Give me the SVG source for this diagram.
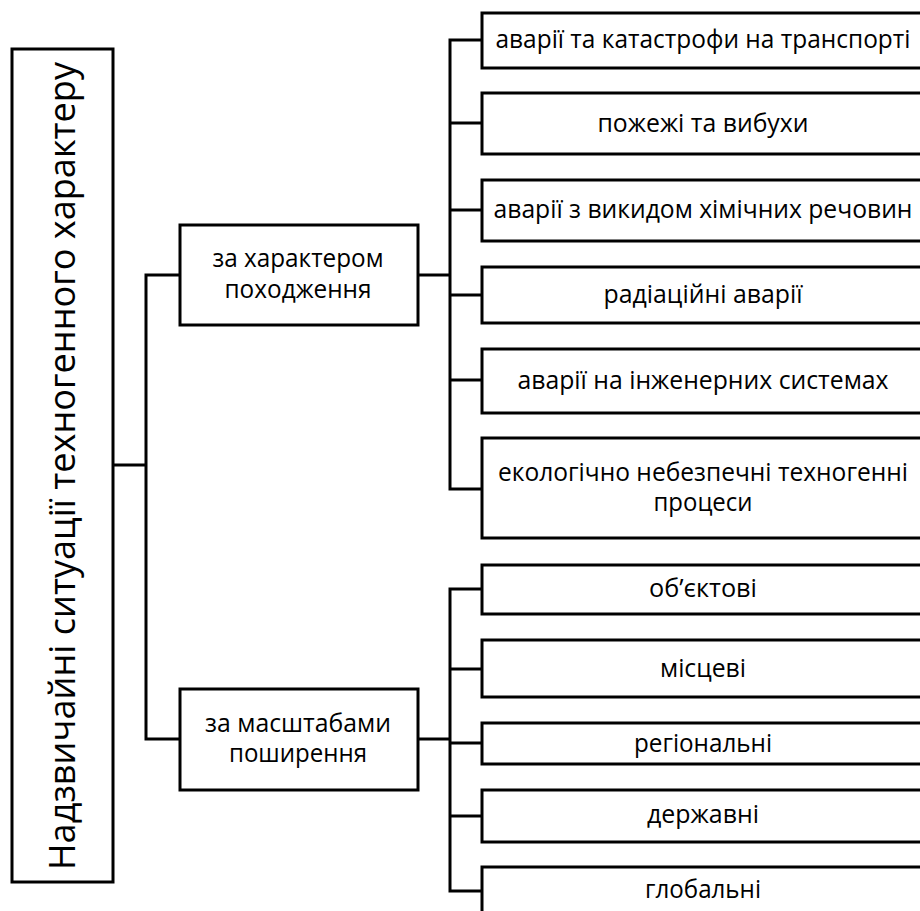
<svg xmlns="http://www.w3.org/2000/svg" width="920" height="911" viewBox="0 0 920 911">
<style>
.box{fill:#ffffff;stroke:#000000;stroke-width:3}
.con{fill:none;stroke:#000000;stroke-width:3;stroke-linejoin:miter}
.t{font-family:"Open Sans","Noto Sans","DejaVu Sans",sans-serif;font-size:25px;fill:#000000;text-anchor:middle}
.title{font-family:"Open Sans","Noto Sans","DejaVu Sans",sans-serif;font-size:37px;fill:#000000;text-anchor:middle}
</style>
<rect x="0" y="0" width="920" height="911" fill="#ffffff"/>
<g id="connectors">
<path class="con" d="M113 465 H146"/>
<path class="con" d="M180 275 H146 V739 H180"/>
<path class="con" d="M418 275 H450"/>
<path class="con" d="M418 739 H450"/>
<path class="con" d="M482 40 H450 V489 H482"/>
<path class="con" d="M450 123 H482 M450 210 H482 M450 295 H482 M450 380 H482"/>
<path class="con" d="M482 589 H450 V891 H482"/>
<path class="con" d="M450 669 H482 M450 743 H482 M450 816 H482"/>
</g>
<g id="root">
<rect class="box" x="12" y="49" width="101" height="833"/>
<text class="title" transform="translate(75 466) rotate(-90)" x="0" y="0" textLength="808" lengthAdjust="spacingAndGlyphs">Надзвичайні ситуації техногенного характеру</text>
</g>
<g id="origin">
<rect class="box" x="180" y="225" width="238" height="100"/>
<text class="t"><tspan x="298" y="267" textLength="171" lengthAdjust="spacingAndGlyphs">за характером</tspan><tspan x="298" y="298" textLength="147" lengthAdjust="spacingAndGlyphs">походження</tspan></text>
</g>
<g id="scale">
<rect class="box" x="180" y="689" width="238" height="101"/>
<text class="t"><tspan x="298" y="732" textLength="186" lengthAdjust="spacingAndGlyphs">за масштабами</tspan><tspan x="298" y="762" textLength="138" lengthAdjust="spacingAndGlyphs">поширення</tspan></text>
</g>
<g id="transport">
<rect class="box" x="482" y="13" width="442" height="55"/>
<text class="t" x="703" y="48" textLength="415" lengthAdjust="spacingAndGlyphs">аварії та катастрофи на транспорті</text>
</g>
<g id="fires">
<rect class="box" x="482" y="93" width="442" height="61"/>
<text class="t" x="703" y="132" textLength="211" lengthAdjust="spacingAndGlyphs">пожежі та вибухи</text>
</g>
<g id="chemical">
<rect class="box" x="482" y="180" width="442" height="61"/>
<text class="t" x="703" y="218" textLength="419" lengthAdjust="spacingAndGlyphs">аварії з викидом хімічних речовин</text>
</g>
<g id="radiation">
<rect class="box" x="482" y="267" width="442" height="56"/>
<text class="t" x="703" y="303" textLength="199" lengthAdjust="spacingAndGlyphs">радіаційні аварії</text>
</g>
<g id="engineering">
<rect class="box" x="482" y="349" width="442" height="64"/>
<text class="t" x="703" y="389" textLength="371" lengthAdjust="spacingAndGlyphs">аварії на інженерних системах</text>
</g>
<g id="ecological">
<rect class="box" x="482" y="438" width="442" height="100"/>
<text class="t"><tspan x="703" y="481" textLength="410" lengthAdjust="spacingAndGlyphs">екологічно небезпечні техногенні</tspan><tspan x="703" y="511" textLength="99" lengthAdjust="spacingAndGlyphs">процеси</tspan></text>
</g>
<g id="object">
<rect class="box" x="482" y="565" width="442" height="49"/>
<text class="t" x="703" y="597" textLength="108" lengthAdjust="spacingAndGlyphs">об’єктові</text>
</g>
<g id="local">
<rect class="box" x="482" y="640" width="442" height="57"/>
<text class="t" x="703" y="677" textLength="86" lengthAdjust="spacingAndGlyphs">місцеві</text>
</g>
<g id="regional">
<rect class="box" x="482" y="723" width="442" height="41"/>
<text class="t" x="703" y="752" textLength="138" lengthAdjust="spacingAndGlyphs">регіональні</text>
</g>
<g id="state">
<rect class="box" x="482" y="790" width="442" height="52"/>
<text class="t" x="703" y="823" textLength="112" lengthAdjust="spacingAndGlyphs">державні</text>
</g>
<g id="global">
<rect class="box" x="482" y="867" width="442" height="60"/>
<text class="t" x="703" y="898" textLength="116" lengthAdjust="spacingAndGlyphs">глобальні</text>
</g>
</svg>
